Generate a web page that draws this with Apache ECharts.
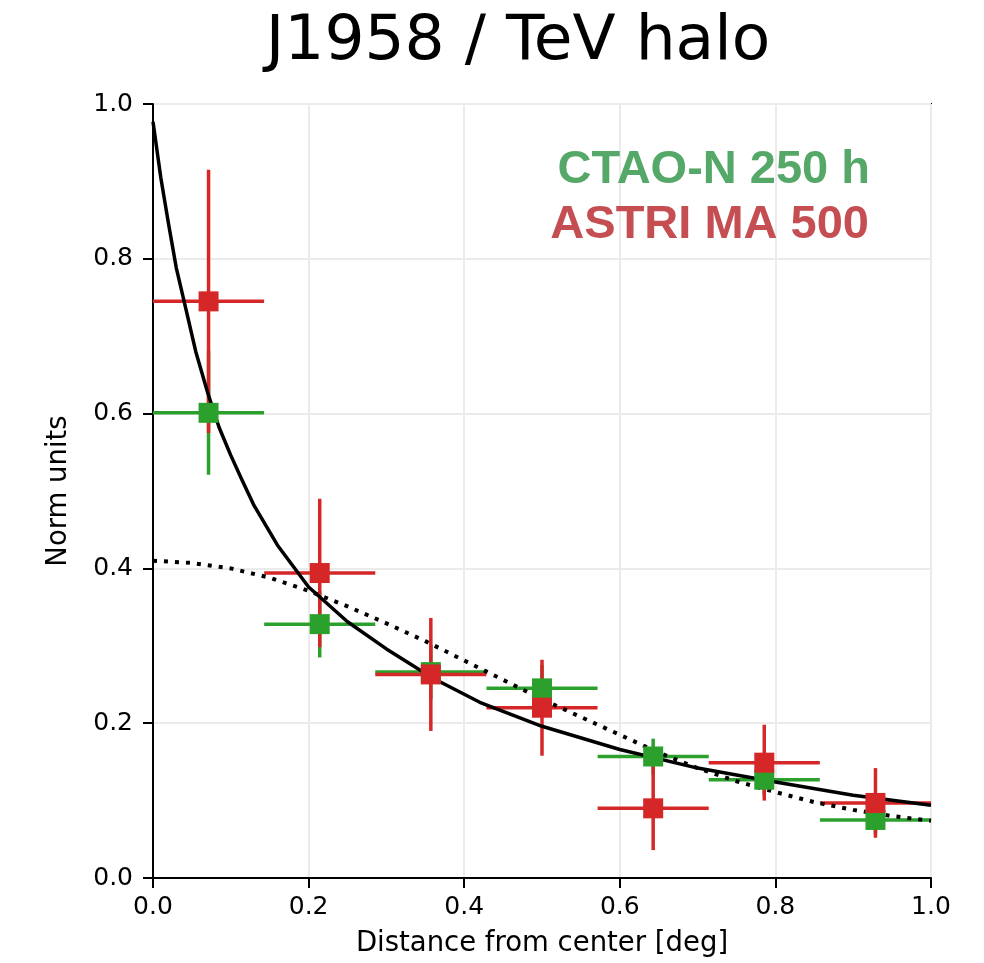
<!DOCTYPE html>
<html>
<head>
<meta charset="utf-8">
<script src="https://cdn.jsdelivr.net/npm/echarts@6/dist/echarts.min.js"></script>
<style>
html,body{margin:0;padding:0;background:#fff;}
#main{width:984px;height:963px;}
</style>
</head>
<body>
<div id="main"></div>
<script>
// ---- data ----
var binCenters = [0.0714, 0.2143, 0.3571, 0.5, 0.6429, 0.7857, 0.9286];
var binHalfWidth = [0.0714, 0.0714, 0.0714, 0.0714, 0.0714, 0.0714, 0.0714];

var ctaoValues = [0.601, 0.328, 0.266, 0.245, 0.157, 0.127, 0.075];
var ctaoErrors = [0.080, 0.043, 0.035, 0.030, 0.023, 0.020, 0.018];

var astriValues = [0.745, 0.394, 0.263, 0.220, 0.090, 0.149, 0.097];
var astriErrors = [0.170, 0.096, 0.073, 0.062, 0.054, 0.049, 0.045];

var solidX = [0, 0.01, 0.02, 0.03, 0.04, 0.055, 0.07, 0.085, 0.10, 0.115, 0.13, 0.16, 0.20, 0.25, 0.30, 0.36, 0.42, 0.50, 0.60, 0.70, 0.80, 0.90, 1.00];
var solidY = [0.977, 0.905, 0.845, 0.788, 0.745, 0.680, 0.628, 0.582, 0.546, 0.513, 0.481, 0.430, 0.376, 0.331, 0.296, 0.258, 0.227, 0.196, 0.166, 0.142, 0.124, 0.107, 0.094];

var dottedX = [0, 0.05, 0.10, 0.15, 0.20, 0.25, 0.30, 0.35, 0.40, 0.45, 0.50, 0.55, 0.60, 0.65, 0.70, 0.75, 0.80, 0.85, 0.90, 0.95, 1.00];
var dottedY = [0.410, 0.407, 0.400, 0.388, 0.371, 0.351, 0.329, 0.306, 0.281, 0.256, 0.231, 0.208, 0.185, 0.162, 0.142, 0.125, 0.111, 0.098, 0.088, 0.080, 0.074];

var xTicks = [0, 0.2, 0.4, 0.6, 0.8, 1.0];
var yTicks = [0, 0.2, 0.4, 0.6, 0.8, 1.0];

var titleText = 'J1958 / TeV halo';
var legendLines = ['CTAO-N 250 h', 'ASTRI MA 500'];

// ---- build ----
var GREEN = '#2ca02c', RED = '#d62728';

function pts(xs, ys, ex, ey) {
  return xs.map(function (x, i) { return [x, ys[i], ex ? ex[i] : 0, ey ? ey[i] : 0]; });
}
function zip(xs, ys) { return xs.map(function (x, i) { return [x, ys[i]]; }); }

function errRender(color) {
  return function (params, api) {
    var x = api.value(0), y = api.value(1), ex = api.value(2), ey = api.value(3);
    var l = api.coord([x - ex, y]), r = api.coord([x + ex, y]);
    var t = api.coord([x, y + ey]), b = api.coord([x, y - ey]);
    var st = { stroke: color, lineWidth: 3.5, fill: null };
    return {
      type: 'group',
      children: [
        { type: 'line', shape: { x1: l[0], y1: l[1], x2: r[0], y2: r[1] }, style: st },
        { type: 'line', shape: { x1: t[0], y1: t[1], x2: b[0], y2: b[1] }, style: st }
      ]
    };
  };
}

var chart = echarts.init(document.getElementById('main'), null, { renderer: 'canvas' });

var axisCommon = {
  type: 'value', min: 0, max: 1, interval: 0.2,
  axisLine: { show: true, onZero: false, lineStyle: { color: '#000', width: 2 } },
  axisTick: { show: true, inside: false, length: 10, lineStyle: { color: '#000', width: 2 } },
  splitLine: { show: true, lineStyle: { color: '#ebebeb', width: 2 } },
  axisLabel: {
    color: '#000', fontFamily: 'DejaVu Sans', fontSize: 25,
    formatter: function (v) { return v.toFixed(1); }
  },
  nameLocation: 'middle',
  nameTextStyle: { color: '#000', fontFamily: 'DejaVu Sans', fontSize: 27.5 }
};

var option = {
  animation: false,
  backgroundColor: '#fff',
  grid: { left: 153, right: 53, top: 104, bottom: 85, show: true, borderColor: '#000', borderWidth: 2, backgroundColor: 'transparent' },
  xAxis: Object.assign({}, axisCommon, {
    name: 'Distance from center [deg]', nameGap: 52,
    axisLabel: Object.assign({}, axisCommon.axisLabel, { margin: 17 })
  }),
  yAxis: Object.assign({}, axisCommon, {
    name: 'Norm units', nameGap: 80, nameRotate: 90,
    axisLabel: Object.assign({}, axisCommon.axisLabel, { margin: 20 })
  }),
  graphic: [
    { type: 'text', x: 518, y: 43, z: 100,
      style: { text: titleText, fill: '#000', font: '63px "DejaVu Sans"', align: 'center', verticalAlign: 'middle' } },
    { type: 'text', x: 870, y: 170, z: 100,
      style: { text: legendLines[0], fill: '#55a868', font: 'bold 47px "Liberation Sans"', align: 'right', verticalAlign: 'middle' } },
    { type: 'text', x: 869, y: 225, z: 100,
      style: { text: legendLines[1], fill: '#c44e52', font: 'bold 47px "Liberation Sans"', align: 'right', verticalAlign: 'middle' } }
  ],
  series: [
    { type: 'custom', name: 'ctao-err', renderItem: errRender(GREEN), data: pts(binCenters, ctaoValues, binHalfWidth, ctaoErrors), encode: { x: 0, y: 1 }, z: 2 },
    { type: 'custom', name: 'astri-err', renderItem: errRender(RED), data: pts(binCenters, astriValues, binHalfWidth, astriErrors), encode: { x: 0, y: 1 }, z: 2 },
    { type: 'line', name: 'model', data: zip(solidX, solidY), showSymbol: false, smooth: false,
      lineStyle: { color: '#000', width: 3.5, join: 'round' }, z: 3 },
    { type: 'line', name: 'gauss', data: zip(dottedX, dottedY), showSymbol: false, smooth: false,
      lineStyle: { color: '#000', width: 4, type: [4, 7], cap: 'butt' }, z: 3 },
    { type: 'scatter', name: 'ctao', data: zip(binCenters, ctaoValues), symbol: 'rect', symbolSize: 20,
      itemStyle: { color: GREEN, opacity: 1 }, z: 4 },
    { type: 'scatter', name: 'astri', data: zip(binCenters, astriValues), symbol: 'rect', symbolSize: 20,
      itemStyle: { color: RED, opacity: 1 }, z: 4 }
  ]
};
chart.setOption(option);
</script>
</body>
</html>
